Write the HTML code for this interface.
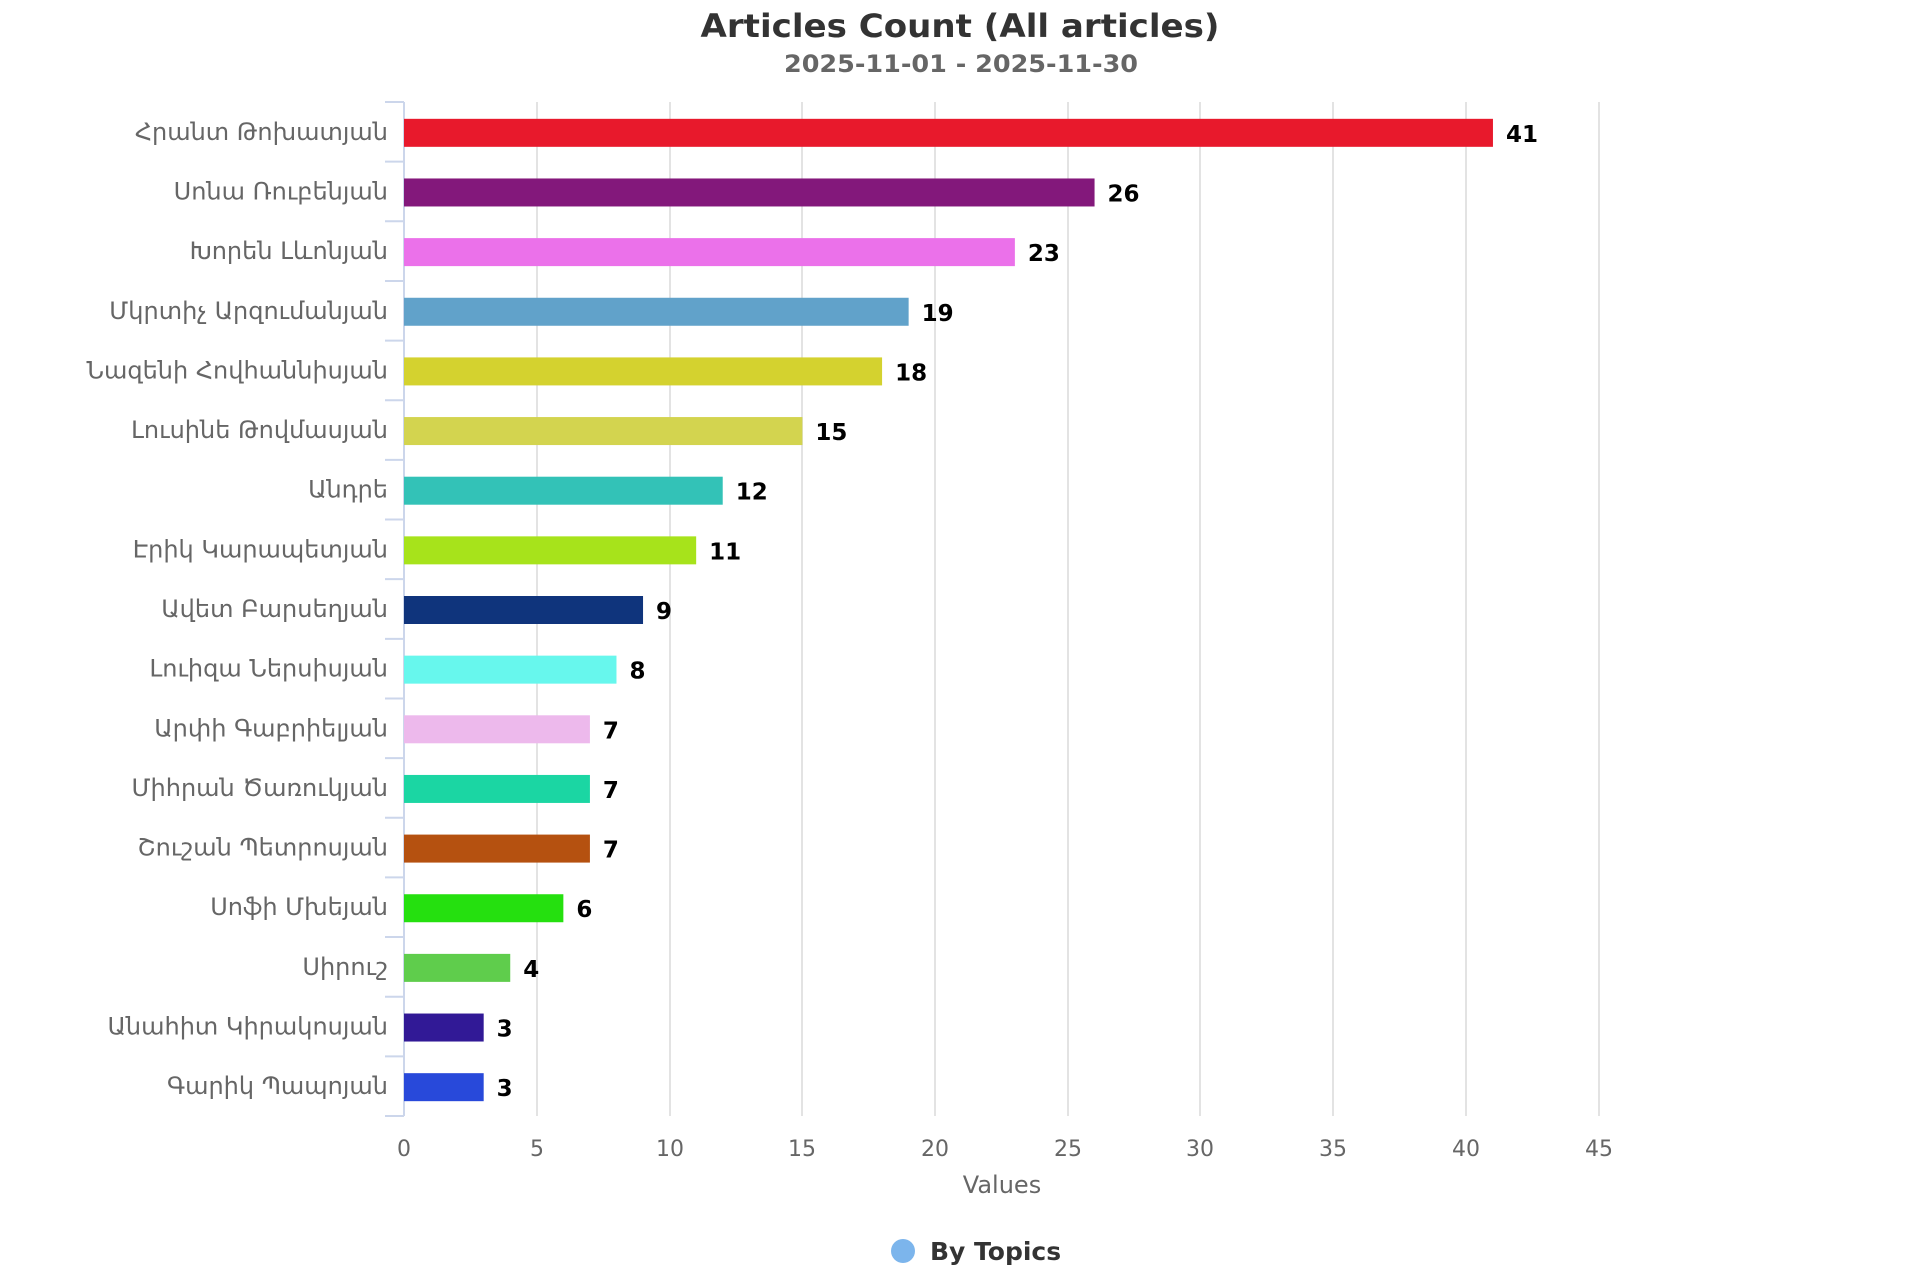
<!DOCTYPE html>
<html><head><meta charset="utf-8"><style>html,body{margin:0;padding:0;background:#fff}svg{display:block}</style></head>
<body>
<svg width="1920" height="1280" viewBox="0 0 1920 1280" xmlns="http://www.w3.org/2000/svg" font-family="'DejaVu Sans','Liberation Sans',sans-serif">
<text x="960" y="37" text-anchor="middle" font-size="32" font-weight="bold" fill="#333" textLength="519" lengthAdjust="spacingAndGlyphs">Articles Count (All articles)</text>
<text x="961" y="72" text-anchor="middle" font-size="24" font-weight="bold" fill="#666" textLength="354" lengthAdjust="spacingAndGlyphs">2025-11-01 - 2025-11-30</text>
<g stroke="#e3e3e3" stroke-width="2">
<line x1="537" y1="102" x2="537" y2="1116"/><line x1="670" y1="102" x2="670" y2="1116"/><line x1="802" y1="102" x2="802" y2="1116"/><line x1="935" y1="102" x2="935" y2="1116"/><line x1="1068" y1="102" x2="1068" y2="1116"/><line x1="1200" y1="102" x2="1200" y2="1116"/><line x1="1333" y1="102" x2="1333" y2="1116"/><line x1="1466" y1="102" x2="1466" y2="1116"/><line x1="1599" y1="102" x2="1599" y2="1116"/>
</g>
<g stroke="#ccd6eb" stroke-width="2">
<line x1="404" y1="102" x2="404" y2="1116"/>
</g>
<g id="ticks" stroke="#ccd6eb" stroke-width="2"></g>
<g id="bars"></g>
<g font-size="22" fill="#666" text-anchor="middle">
<text x="404" y="1156">0</text><text x="537" y="1156">5</text><text x="670" y="1156">10</text><text x="802" y="1156">15</text><text x="935" y="1156">20</text><text x="1068" y="1156">25</text><text x="1200" y="1156">30</text><text x="1333" y="1156">35</text><text x="1466" y="1156">40</text><text x="1599" y="1156">45</text>
</g>
<text x="1002" y="1193" text-anchor="middle" font-size="24" fill="#666">Values</text>
<circle cx="903" cy="1251" r="12" fill="#7cb5ec"/>
<text x="930" y="1260" font-size="25" font-weight="bold" fill="#333">By Topics</text>
<script>
var d=[["Հրանտ Թոխատյան",41,"#e8192c"],["Սոնա Ռուբենյան",26,"#83187b"],["Խորեն Լևոնյան",23,"#eb71ea"],["Մկրտիչ Արզումանյան",19,"#61a2ca"],["Նազենի Հովհաննիսյան",18,"#d4d22f"],["Լուսինե Թովմասյան",15,"#d3d44f"],["Անդրե",12,"#33c2b7"],["Էրիկ Կարապետյան",11,"#a7e31b"],["Ավետ Բարսեղյան",9,"#0f347c"],["Լուիզա Ներսիսյան",8,"#67f7ed"],["Արփի Գաբրիելյան",7,"#edb9ec"],["Միհրան Ծառուկյան",7,"#1bd6a3"],["Շուշան Պետրոսյան",7,"#b55110"],["Սոֆի Մխեյան",6,"#25e00f"],["Սիրուշ",4,"#5fcd4c"],["Անահիտ Կիրակոսյան",3,"#311996"],["Գարիկ Պապոյան",3,"#2849da"]];
var ns="http://www.w3.org/2000/svg",b=document.getElementById("bars"),t=document.getElementById("ticks");
var band=(1116-102)/17,u=26.56;
function el(n,a,p){var e=document.createElementNS(ns,n);for(var k in a)e.setAttribute(k,a[k]);p.appendChild(e);return e;}
for(var i=0;i<=17;i++){var y=102+band*i;el("line",{x1:385,y1:y,x2:404,y2:y},t);}
d.forEach(function(r,i){var c=102+band*(i+0.5)+1;var w=r[1]*u;
el("rect",{x:404,y:c-14,width:w,height:28,fill:r[2]},b);
var l=el("text",{x:404+w+13,y:c+9,"font-size":23,"font-weight":"bold",fill:"#000"},b);l.textContent=r[1];
var n=el("text",{x:388,y:c+7,"font-size":24,fill:"#666","text-anchor":"end"},b);n.textContent=r[0];});
</script>
</svg>
</body></html>
